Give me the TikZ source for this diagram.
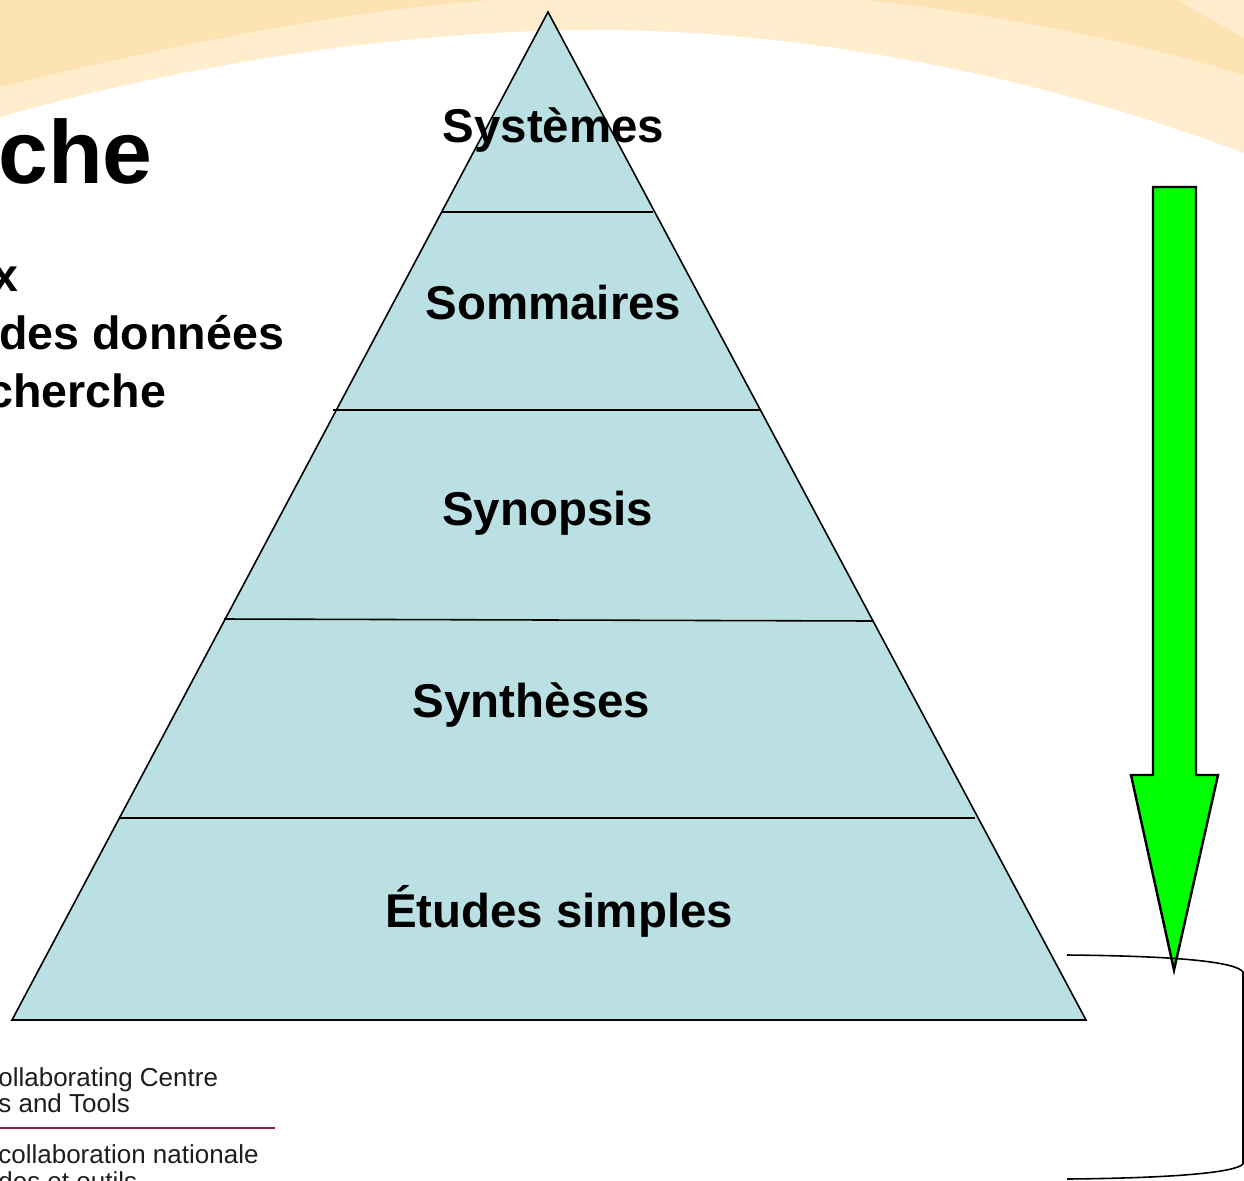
\documentclass[tikz,border=0pt]{standalone}
\usepackage{fontspec}
\setmainfont{Liberation Sans}
\definecolor{peachdark}{RGB}{253,226,178}
\definecolor{peachlight}{RGB}{255,237,206}
\definecolor{pyrfill}{RGB}{186,224,227}
\definecolor{arrowgreen}{RGB}{0,255,0}
\definecolor{logoline}{RGB}{140,30,80}
\definecolor{logotext}{RGB}{30,30,30}
\tikzset{
  level/.style={font=\fontsize{27}{30}\selectfont\bfseries, anchor=base, inner sep=0pt},
  bullet/.style={font=\fontsize{26.5}{30}\selectfont\bfseries, anchor=base west, inner sep=0pt},
  logo/.style={font=\fontsize{14.8}{17}\selectfont, text=logotext, anchor=base west, inner sep=0pt},
  pyrline/.style={draw=black, line width=0.9pt},
}
\begin{document}
\begin{tikzpicture}[x=0.02cm, y=-0.02cm]
\useasboundingbox (0,0) rectangle (1244,1180);
\clip (0,0) rectangle (1244,1180);
\fill[white] (0,0) rectangle (1244,1180);
% background bands
\fill[peachlight] (0,0) -- (0,117) .. controls (200,60) and (420,28) .. (620,30)
  .. controls (830,34) and (1050,80) .. (1244,153) -- (1244,0) -- cycle;
\fill[peachdark] (0,0) -- (0,87) .. controls (150,50) and (330,12) .. (490,0) -- cycle;
\fill[peachdark] (867,0) .. controls (1000,15) and (1130,40) .. (1244,75) -- (1244,38) -- (1177,0) -- cycle;
% title remnants
\node[font=\fontsize{51}{56}\selectfont\bfseries, anchor=base east, inner sep=0pt] (title) at (153,183) {che};
\node[bullet] (b1) at (-8,291) {x};
\node[bullet] (b2) at (-1,349) {des données};
\node[bullet] (b3) at (-13,407) {cherche};
% logo text
\node[logo] (l1) at (-2,1086) {ollaborating Centre};
\node[logo] (l2) at (-2,1112) {s and Tools};
\draw[logoline, line width=1.2pt] (0,1128) coordinate (ls) -- (275,1128) coordinate (le);
\node[logo] (l3) at (-2,1163) {collaboration nationale};
\node[logo] (l4) at (-2,1190) {des et outils};
% pyramid
\coordinate (apex) at (548,12);
\coordinate (bl) at (12,1020);
\coordinate (br) at (1086,1020);
\filldraw[fill=pyrfill, pyrline] (apex) -- (br) -- (bl) -- cycle;
\draw[pyrline] (441,212) -- (653,212);
\draw[pyrline] (333,410) -- (761,410);
\draw[pyrline] (224,619) -- (873,621);
\draw[pyrline] (119,818) -- (975,818);
\node[level] (s1) at (553.5,142) {Systèmes};
\node[level] (s2) at (553.5,319) {Sommaires};
\node[level] (s3) at (547.5,525) {Synopsis};
\node[level] (s4) at (531.5,717) {Synthèses};
\node[level] (s5) at (559,927) {Études simples};
% green arrow
\filldraw[fill=arrowgreen, draw=black, line width=1.4pt, line join=miter]
  (1153,187) -- (1196,187) -- (1196,775) -- (1218,775) -- (1174,970) -- (1131,775) -- (1153,775) -- cycle;
% bracket
\draw[black, line width=0.9pt] (1067,955) .. controls (1180,956) and (1236,962) .. (1243,972)
  -- (1243,1164) .. controls (1236,1172) and (1180,1178) .. (1067,1179);
\end{tikzpicture}
\end{document}
